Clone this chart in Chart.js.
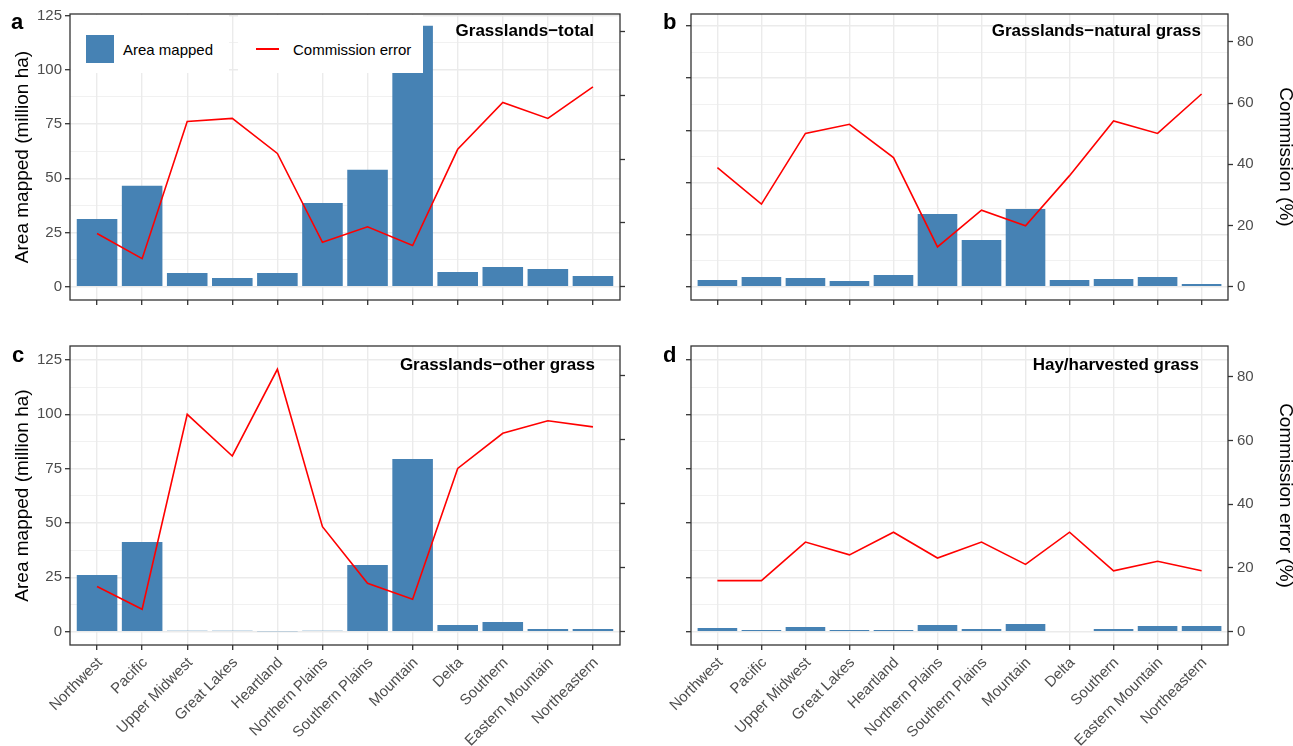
<!DOCTYPE html>
<html>
<head>
<meta charset="utf-8">
<script src="https://cdn.jsdelivr.net/npm/chart.js@4.4.0/dist/chart.umd.min.js"></script>
<style>
  body { margin: 0; width: 1293px; height: 746px; overflow: hidden; background: #fff; position: relative;
         font-family: "Liberation Sans", Arial, sans-serif; }
  canvas { position: absolute; }
  .tag { position: absolute; font-weight: bold; font-size: 22px; line-height: 22px; color: #000; }
  .ptitle { position: absolute; width: 320px; text-align: right; font-weight: bold; font-size: 17px; line-height: 17px; color: #000; white-space: nowrap; }
  .lbox { position: absolute; top: 15px; height: 48px; padding-top: 10px; background: #fff; display: flex; align-items: center;
          font-size: 15px; color: #000; white-space: nowrap; }
  .lbox .sq { width: 28px; height: 28px; background: #4682B4; margin-left: 15px; margin-right: 9px; }
  .lbox .ln { width: 23px; height: 2px; background: #FF0000; margin-left: 18px; margin-right: 14px; }
</style>
</head>
<body>
<canvas id="pa" width="650" height="310" style="left:0;top:0"></canvas>
<canvas id="pb" width="650" height="310" style="left:650px;top:0"></canvas>
<canvas id="pc" width="650" height="416" style="left:0;top:330px"></canvas>
<canvas id="pd" width="650" height="416" style="left:650px;top:330px"></canvas>

<div class="tag" style="left:11px;top:11px">a</div>
<div class="tag" style="left:663px;top:11px">b</div>
<div class="tag" style="left:12px;top:344px">c</div>
<div class="tag" style="left:663px;top:344px">d</div>

<div class="ptitle" style="left:274px;top:22px">Grasslands−total</div>
<div class="ptitle" style="left:881px;top:22px">Grasslands−natural grass</div>
<div class="ptitle" style="left:275px;top:356px">Grasslands−other grass</div>
<div class="ptitle" style="left:879px;top:356px">Hay/harvested grass</div>

<div id="leg1" class="lbox" style="left:71px;width:158px"><div class="sq"></div><span></span></div>
<div id="leg2" class="lbox" style="left:238px;width:185px"><div class="ln"></div><span></span></div>

<script>
const regions = ['Northwest', 'Pacific', 'Upper Midwest', 'Great Lakes', 'Heartland', 'Northern Plains',
                 'Southern Plains', 'Mountain', 'Delta', 'Southern', 'Eastern Mountain', 'Northeastern'];

// area mapped (million ha)
const areaTotal   = [31.2, 46.5, 6.3, 4.0, 6.3, 38.6, 53.9, 120.4, 6.8, 9.1, 8.2, 4.9];
const areaNatural = [3.2, 4.6, 4.2, 2.7, 5.6, 34.8, 22.4, 37.2, 3.2, 3.7, 4.6, 1.3];
const areaOther   = [26.1, 41.3, 0.4, 0.4, 0.2, 0.4, 30.7, 79.4, 3.1, 4.4, 1.2, 1.2];
const areaHay     = [1.7, 0.8, 2.1, 0.8, 0.8, 3.1, 1.2, 3.5, 0.3, 1.2, 2.6, 2.6];

// commission error (%)
const errTotal   = [16.7, 8.8, 51.8, 52.8, 41.8, 13.9, 18.8, 12.9, 43.1, 57.8, 52.8, 62.7];
const errNatural = [38.9, 27.0, 50.1, 53.1, 42.2, 13.0, 25.0, 19.9, 36.3, 54.2, 50.1, 63.0];
const errOther   = [14.1, 7.0, 67.9, 54.9, 82.0, 32.8, 15.1, 10.1, 51.0, 62.0, 65.9, 64.0];
const errHay     = [16.0, 16.0, 28.1, 24.1, 31.2, 23.1, 28.1, 21.1, 31.2, 19.1, 22.1, 19.1];

const areaTicks = [0, 25, 50, 75, 100, 125];
const errTicks = [0, 20, 40, 60, 80];
const seriesNames = ['Area mapped', 'Commission error'];

document.querySelector('#leg1 span').textContent = seriesNames[0];
document.querySelector('#leg2 span').textContent = seriesNames[1];

// major ticks plus minor ones half way for the grid
const gridTicks = areaTicks.flatMap((v, i) => i < areaTicks.length - 1 ? [v, (v + areaTicks[i + 1]) / 2] : [v]);
const isMajor = v => areaTicks.includes(v);

Chart.defaults.font.family = '"Liberation Sans", Arial, sans-serif';
Chart.defaults.color = '#4D4D4D';

const framePlugin = {
    id: 'frame',
    afterDatasetsDraw(chart) {
        const { ctx, chartArea: a } = chart;
        ctx.save();
        ctx.strokeStyle = '#333333';
        ctx.lineWidth = 1.3;
        ctx.strokeRect(a.left, a.top, a.right - a.left, a.bottom - a.top);
        ctx.restore();
    }
};

// keep label overhang from shrinking the plot area
function noPad(s) {
    s.paddingTop = 0; s.paddingBottom = 0; s.paddingLeft = 0; s.paddingRight = 0;
}

function makePanel(id, area, err, o) {
    new Chart(document.getElementById(id), {
        type: 'bar',
        data: {
            datasets: [
                {
                    type: 'line', label: seriesNames[1], yAxisID: 'y1', order: 0,
                    data: err.map((v, i) => ({ x: i, y: v })),
                    borderColor: '#FF0000', borderWidth: 1.6, pointRadius: 0, tension: 0
                },
                {
                    type: 'bar', label: seriesNames[0], yAxisID: 'y', order: 1,
                    data: area.map((v, i) => ({ x: i, y: v })),
                    backgroundColor: '#4682B4', categoryPercentage: 1, barPercentage: 0.9
                }
            ]
        },
        options: {
            responsive: false,
            animation: false,
            devicePixelRatio: 1,
            layout: { padding: { top: o.padTop, left: 0, right: 0, bottom: 0 } },
            plugins: { legend: { display: false }, tooltip: { enabled: false } },
            scales: {
                x: {
                    type: 'linear', min: -0.6, max: 11.6, offset: false,
                    afterBuildTicks: s => { s.ticks = regions.map((r, i) => ({ value: i })); },
                    afterFit: s => { s.height = o.xh; noPad(s); },
                    border: { display: false },
                    grid: { offset: false, color: '#EBEBEB', lineWidth: 1.4, tickColor: '#333333', tickLength: 5, tickWidth: 1.3 },
                    ticks: {
                        display: o.showX, autoSkip: false, maxRotation: 45, minRotation: 45,
                        labelOffset: 3, padding: 4, font: { size: 15 }, color: '#4D4D4D',
                        callback: v => regions[v]
                    }
                },
                y: {
                    position: 'left', min: o.ymin, max: o.ymax,
                    afterBuildTicks: s => { s.ticks = gridTicks.map(v => ({ value: v })); },
                    afterFit: s => { s.width = o.yw; noPad(s); },
                    border: { display: false },
                    grid: {
                        color: '#EBEBEB',
                        lineWidth: c => (c.tick && isMajor(c.tick.value)) ? 1.4 : 0.7,
                        tickColor: c => (c.tick && isMajor(c.tick.value)) ? '#333333' : 'rgba(0,0,0,0)',
                        tickLength: 5, tickWidth: 1.3
                    },
                    ticks: {
                        display: o.showY, padding: 3, font: { size: 15 }, color: '#4D4D4D',
                        callback: v => isMajor(v) ? v : ''
                    },
                    title: {
                        display: o.showY, text: 'Area mapped (million ha)', color: '#000',
                        font: { size: 19 }, padding: { top: 11, bottom: 0 }
                    }
                },
                y1: {
                    position: 'right', min: o.emin, max: o.emax,
                    afterBuildTicks: s => { s.ticks = errTicks.map(v => ({ value: v })); },
                    afterFit: s => { s.width = o.y1w; noPad(s); },
                    border: { display: false },
                    grid: { drawOnChartArea: false, tickColor: '#333333', tickLength: 5, tickWidth: 1.3 },
                    ticks: { display: o.showY1, padding: 4, font: { size: 15 }, color: '#4D4D4D' },
                    title: {
                        display: o.showY1, text: o.y1title || '', color: '#000',
                        font: { size: 19 }, padding: { top: 3.6, bottom: 0 }
                    }
                }
            }
        },
        plugins: [framePlugin]
    });
}

makePanel('pa', areaTotal, errTotal, {
    padTop: 14, xh: 10, yw: 70, y1w: 30, showX: false, showY: true, showY1: false,
    ymin: -6.15, ymax: 125.77, emin: -4.18, emax: 85.55
});
makePanel('pb', areaNatural, errNatural, {
    padTop: 14, xh: 10, yw: 41, y1w: 72, showX: false, showY: false, showY1: true,
    y1title: 'Commission (%)',
    ymin: -6.39, ymax: 130.76, emin: -4.36, emax: 89.15
});
makePanel('pc', areaOther, errOther, {
    padTop: 16, xh: 101, yw: 70, y1w: 30, showX: true, showY: true, showY1: false,
    ymin: -6.13, ymax: 131.45, emin: -4.17, emax: 89.27
});
makePanel('pd', areaHay, errHay, {
    padTop: 16, xh: 101, yw: 41, y1w: 72, showX: true, showY: false, showY1: true,
    y1title: 'Commission error (%)',
    ymin: -6.13, ymax: 131.45, emin: -4.18, emax: 89.62
});
</script>
</body>
</html>
